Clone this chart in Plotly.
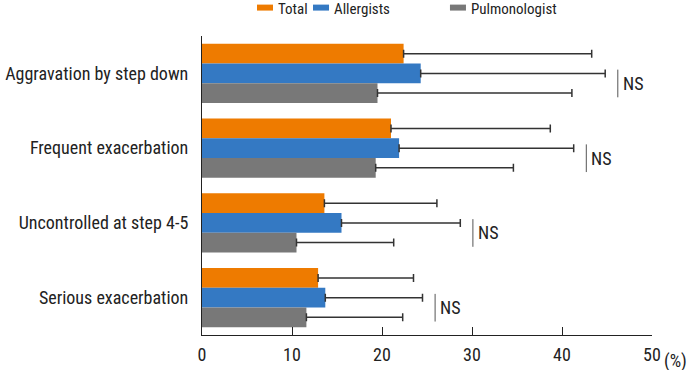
import plotly.graph_objects as go

categories = ["Aggravation by step down", "Frequent exacerbation",
              "Uncontrolled at step 4-5", "Serious exacerbation"]
series_names = ["Total", "Allergists", "Pulmonologist"]
total = [22.4, 21.0, 13.6, 12.9]
total_sd = [20.9, 17.7, 12.5, 10.6]
allergists = [24.3, 21.9, 15.5, 13.7]
allergists_sd = [20.5, 19.4, 13.2, 10.8]
pulmonologist = [19.5, 19.3, 10.5, 11.6]
pulmonologist_sd = [21.6, 15.3, 10.8, 10.7]
significance = ["NS", "NS", "NS", "NS"]
tick_vals = [0, 10, 20, 30, 40, 50]
tick_labels = ["0", "10", "20", "30", "40", "50"]
unit_label = "(%)"

colors = ["#EE7B00", "#3479C3", "#787878"]
FONT = "Liberation Sans Narrow, Roboto Condensed, Arial Narrow, Roboto, sans-serif"

values = [total, allergists, pulmonologist]
sds = [total_sd, allergists_sd, pulmonologist_sd]

fig = go.Figure()
for name, v, sd, c in zip(series_names, values, sds, colors):
    fig.add_trace(go.Bar(
        y=categories, x=v, name=name, orientation="h",
        marker=dict(color=c, line=dict(width=0)),
        error_x=dict(type="data", array=sd, symmetric=False, arrayminus=[0]*len(sd),
                     color="#333333", thickness=1.5, width=4),
        showlegend=False,
    ))

shapes = []
annotations = []
# NS brackets next to the longest error bar of each group
for i, lab in enumerate(significance):
    xmax = max(v[i] + sd[i] for v, sd in zip(values, sds))
    xl = xmax + 1.4
    shapes.append(dict(type="line", xref="x", yref="y", x0=xl, x1=xl,
                       y0=i - 0.05, y1=i + 0.32, line=dict(color="#555555", width=1)))
    annotations.append(dict(x=xl, y=i + 0.135, xref="x", yref="y", text=lab,
                            showarrow=False, xanchor="left", xshift=3, yanchor="middle",
                            font=dict(family=FONT, size=18, color="#222222")))

# custom legend
leg_x = [0.1222, 0.2467, 0.551]
for name, c, lx in zip(series_names, colors, leg_x):
    shapes.append(dict(type="rect", xref="paper", yref="paper",
                       x0=lx, x1=lx + 0.0356, y0=1.085, y1=1.105,
                       fillcolor=c, line=dict(width=0)))
    annotations.append(dict(x=lx + 0.0356, y=1.090, xref="paper", yref="paper", text=name,
                            showarrow=False, xanchor="left", xshift=3, yanchor="middle",
                            font=dict(family=FONT, size=15, color="#222222")))

annotations.append(dict(x=1.0, y=-0.087, xref="paper", yref="paper", text=unit_label,
                        showarrow=False, xanchor="left", xshift=10, yanchor="middle",
                        font=dict(family=FONT, size=18, color="#222222")))

fig.update_layout(
    width=694, height=370,
    margin=dict(l=202, r=42, t=36, b=35),
    paper_bgcolor="white", plot_bgcolor="white",
    barmode="group", bargap=0.21, bargroupgap=0,
    font=dict(family=FONT, size=18, color="#222222"),
    shapes=shapes, annotations=annotations,
    xaxis=dict(range=[0, 50], tickvals=tick_vals, ticktext=tick_labels, automargin=False,
               showgrid=False, zeroline=False, showline=True, linecolor="#222222",
               linewidth=1.2, ticks="inside", ticklen=8, tickcolor="#222222",
               ticklabelstandoff=3,
               tickfont=dict(family=FONT, size=18, color="#222222")),
    yaxis=dict(autorange="reversed", showgrid=False, zeroline=False, showline=True,
               automargin=False,
               linecolor="#222222", linewidth=1.2, ticks="", ticklabelstandoff=9,
               tickfont=dict(family=FONT, size=18, color="#222222")),
)

fig.write_html("out.html", config={"displayModeBar": False},
               post_script="document.body.style.margin='0';")
